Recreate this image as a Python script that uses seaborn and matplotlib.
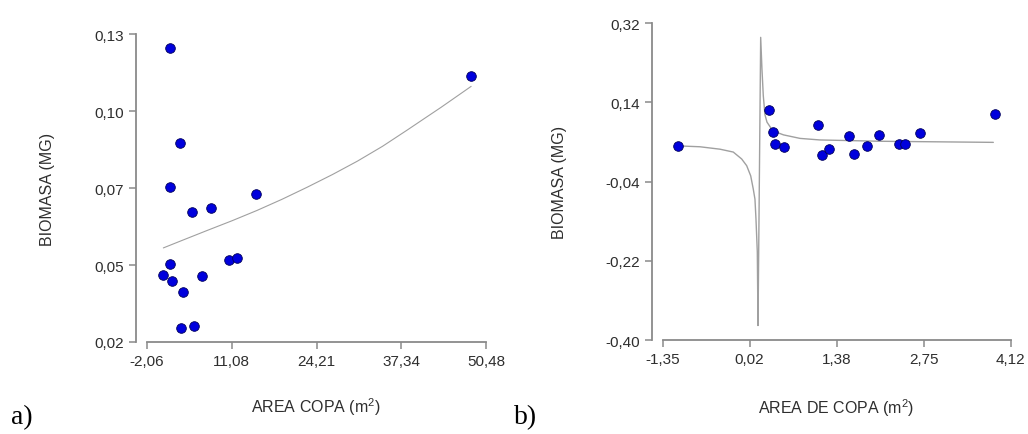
import numpy as np
import pandas as pd
import seaborn as sns
import matplotlib.pyplot as plt

# panel a) - biomass vs crown area
area_a = [1.47, 3.07, 1.47, 4.89, 7.84, 14.89, 48.17, 1.57, 0.38, 1.78,
          3.59, 6.49, 10.65, 11.83, 3.23, 5.30]
biom_a = [0.1251, 0.0910, 0.0752, 0.0665, 0.0680, 0.0729, 0.1151, 0.0479,
          0.0439, 0.0417, 0.0380, 0.0435, 0.0492, 0.0499, 0.0250, 0.0257]
# fitted curve
fit_x_a = [0.47, 3.07, 7.22, 11.11, 15.0, 18.89, 22.78, 26.67, 30.55,
           34.44, 38.33, 40.91, 43.5, 48.17]
fit_y_a = [0.0536, 0.0560, 0.0598, 0.0633, 0.0670, 0.0710, 0.0753, 0.0798,
           0.0846, 0.0899, 0.0958, 0.0998, 0.1038, 0.1113]

# panel b)
area_b = [-1.105, 0.317, 0.389, 0.416, 0.552, 1.087, 1.155, 1.27, 1.58,
          1.653, 1.862, 2.056, 2.361, 2.465, 2.696, 3.875]
biom_b = [0.041, 0.123, 0.072, 0.045, 0.039, 0.0885, 0.020, 0.034, 0.0635,
          0.022, 0.040, 0.066, 0.046, 0.046, 0.070, 0.1135]
fit_x_b = [-1.105, -0.764, -0.449, -0.24, -0.108, -0.029, 0.034, 0.0745,
           0.101, 0.117, 0.138, 0.149, 0.191, 0.211, 0.232, 0.258, 0.29,
           0.35, 0.44, 0.55, 0.81, 1.12, 2.067, 3.848]
fit_y_b = [0.041, 0.039, 0.0335, 0.027, 0.0113, -0.004, -0.027, -0.057,
           -0.080, -0.125, -0.200, -0.367, 0.2875, 0.2156, 0.155, 0.112,
           0.095, 0.082, 0.072, 0.066, 0.058, 0.0545, 0.0515, 0.049]

xa_labels = ['-2,06', '11,08', '24,21', '37,34', '50,48']
ya_labels = ['0,02', '0,05', '0,07', '0,10', '0,13']
xb_labels = ['-1,35', '0,02', '1,38', '2,75', '4,12']
yb_labels = ['-0,40', '-0,22', '-0,04', '0,14', '0,32']

sns.set_style('ticks')
plt.rcParams['font.family'] = ['Liberation Sans', 'DejaVu Sans']

fig = plt.figure(figsize=(10.28, 4.35), dpi=100)
ax1 = fig.add_axes([0.143, 0.2115, 0.3298, 0.708])
ax2 = fig.add_axes([0.6446, 0.216, 0.3385, 0.7287])

spine_col = '#8a8a8a'
text_col = '#2e2e2e'


def style(ax, xlim, ylim, xl, yl, xlab, ylab):
    ax.set_xlim(*xlim)
    ax.set_ylim(*ylim)
    ax.set_xticks(np.linspace(xlim[0], xlim[1], 5))
    ax.set_xticklabels(xl)
    ax.set_yticks(np.linspace(ylim[0], ylim[1], 5))
    ax.set_yticklabels(yl)
    for s in ['top', 'right']:
        ax.spines[s].set_visible(False)
    ax.spines['left'].set_position(('outward', 8))
    for s in ['left', 'bottom']:
        ax.spines[s].set_color(spine_col)
        ax.spines[s].set_linewidth(1.3)
    ax.tick_params(colors=spine_col, labelcolor=text_col, length=5,
                   width=1.1, labelsize=11, direction='out')
    ax.set_xlabel(xlab, fontsize=11.5, color=text_col)
    ax.set_ylabel(ylab, fontsize=11.5, color=text_col)


dot = dict(color='#0000dd', edgecolor='#00005a', linewidth=0.6, s=48, zorder=3)

sns.lineplot(x=fit_x_a, y=fit_y_a, ax=ax1, color='#a0a0a0', lw=0.8,
             sort=False, estimator=None)
sns.scatterplot(x=area_a, y=biom_a, ax=ax1, **dot)
style(ax1, (-2.06, 50.48), (0.02, 0.13), xa_labels, ya_labels,
      'AREA COPA (m$^{\\mathregular{2}}$)', 'BIOMASA (MG)')
ax1.yaxis.set_label_coords(-0.271, 0.5)
ax1.xaxis.set_label_coords(0.498, -0.174)

sns.lineplot(x=fit_x_b, y=fit_y_b, ax=ax2, color='#a0a0a0', lw=1.0,
             sort=False, estimator=None)
sns.scatterplot(x=area_b, y=biom_b, ax=ax2, **dot)
style(ax2, (-1.35, 4.12), (-0.40, 0.32), xb_labels, yb_labels,
      'AREA DE COPA (m$^{\\mathregular{2}}$)', 'BIOMASA (MG)')
ax2.yaxis.set_label_coords(-0.274, 0.5)
ax2.xaxis.set_label_coords(0.498, -0.176)

fig.text(0.011, 0.041, 'a)', family=['Liberation Serif'], fontsize=20,
         va='center', color='black')
fig.text(0.500, 0.041, 'b)', family=['Liberation Serif'], fontsize=20,
         va='center', color='black')

fig.savefig('out.png', dpi=100)
